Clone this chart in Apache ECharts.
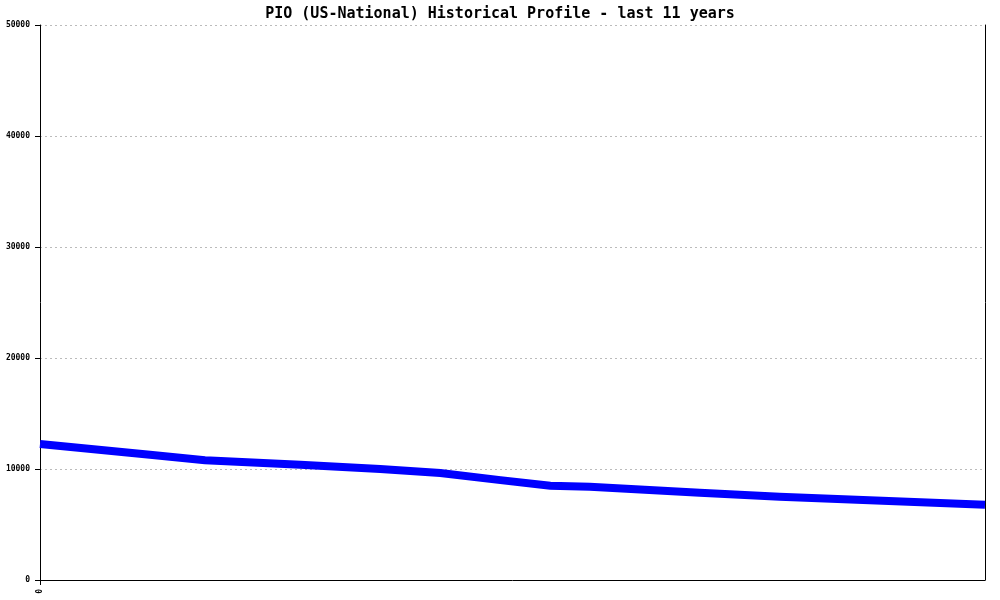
<!DOCTYPE html>
<html>
<head>
<meta charset="utf-8">
<script src="https://cdn.jsdelivr.net/npm/echarts@6/dist/echarts.min.js"></script>
<style>html,body{margin:0;padding:0;background:#fff;}#c{width:1000px;height:600px;}</style>
</head>
<body>
<div id="c"></div>
<script>
// Time position in years (0 = start of the 11-year window) and values
const years = [0, 1.28, 1.92, 3.03, 3.96, 4.66, 5.36, 5.94, 6.40, 7.68, 8.61, 11];
const values = [12250, 11290, 10780, 10390, 10000, 9640, 9000, 8500, 8410, 7870, 7500, 6780];
const yTicks = [0, 10000, 20000, 30000, 40000, 50000];
const titleText = 'PIO (US-National) Historical Profile - last 11 years';

const chart = echarts.init(document.getElementById('c'), null, {renderer: 'canvas'});
const mono = 'DejaVu Sans Mono';
chart.setOption({
  animation: false,
  backgroundColor: '#ffffff',
  title: {
    text: titleText, left: 'center', top: 2,
    textStyle: {fontFamily: mono, fontSize: 15, fontWeight: 'bold', color: '#000'}
  },
  grid: {left: 40, right: 15, top: 25, bottom: 20, containLabel: false},
  xAxis: {
    type: 'value', min: 0, max: 11, interval: 100,
    axisLine: {show: true, onZero: false, lineStyle: {color: '#000', width: 1}},
    axisTick: {show: true, length: 5, lineStyle: {color: '#000'}},
    axisLabel: {show: true, rotate: 90, showMaxLabel: false, fontFamily: mono, fontSize: 8, fontWeight: 'bold', color: '#000', margin: 9,
      formatter: v => String(v)},
    splitLine: {show: false}
  },
  yAxis: [{
    type: 'value', min: yTicks[0], max: yTicks[yTicks.length - 1], interval: 10000,
    axisLine: {show: true, lineStyle: {color: '#000', width: 1}},
    axisTick: {show: true, length: 5, lineStyle: {color: '#000'}},
    axisLabel: {fontFamily: mono, fontSize: 8, fontWeight: 'bold', color: '#000', margin: 10, formatter: v => String(v)},
    splitLine: {show: true, lineStyle: {color: '#bbbbbb', type: [2, 3], width: 1}}
  }, {
    type: 'value', position: 'right', min: 0, max: 50000, interval: 10000,
    axisLine: {show: true, lineStyle: {color: '#000', width: 1}},
    axisTick: {show: false}, axisLabel: {show: false}, splitLine: {show: false}
  }],
  series: [{
    type: 'line',
    data: years.map((t, i) => [t, values[i]]),
    showSymbol: false, symbol: 'none',
    lineStyle: {color: '#0000ff', width: 8, cap: 'butt', join: 'miter'},
    itemStyle: {color: '#0000ff'}
  }]
});
</script>
</body>
</html>
